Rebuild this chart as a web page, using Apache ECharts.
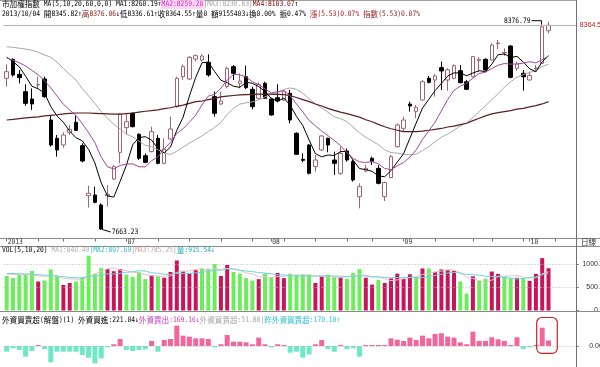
<!DOCTYPE html>
<html><head><meta charset="utf-8">
<script src="https://cdn.jsdelivr.net/npm/echarts/dist/echarts.min.js"></script>
<style>html,body{margin:0;padding:0;background:#fff}#c{width:600px;height:367px}</style>
</head><body><div id="c"></div>
<script>
// ---- trading days (2013) ----
const juneDays = [3,4,5,6,7,10,11,13,14,17,18,19,20,21,24,25,26,27,28];
const julyDays = [1,2,3,4,5,8,9,10,11,12,15,16,17,18,19,22,23,24,25,26,29,30,31];
const augDays  = [1,2,5,6,7,8,9,12,13,14,15,16,19,20,22,23,26,27,28,29,30];
const sepDays  = [2,3,4,5,6,9,10,11,12,13,14,16,17,18,23,24,25,26,27,30];
const octDays  = [1,2,3,4];
const monthTickLabels = ['2013','07','08','09','10'];
const padSlots = ['p1','p2','p3','p4'];
const extraWeekTicks = [87];

// ---- candles ----
const opens = [8182.8,8247.9,8196.5,8137.1,8112.0,8159.9,8180.5,8040.0,7977.2,7954.4,
7996.6,8032.0,7952.1,7780.8,7783.1,7748.8,7780.8,7837.9,7929.3,8013.8,
8062.9,7990.9,7917.8,7931.5,7977.2,7891.6,7974.9,8085.7,8188.5,8180.5,
8249.0,8245.6,8237.6,8120.0,8094.8,8154.2,8222.8,8165.7,8188.5,8145.1,
8114.3,8165.7,8112.0,8116.5,8108.5,8131.4,7994.4,7905.3,7954.4,7880.2,
7937.3,7977.2,7903.0,7857.3,7933.8,7897.3,7777.4,7865.3,7908.7,7874.4,
7777.4,7842.5,7948.7,8011.5,8094.8,8068.6,8108.5,8182.8,8177.1,8219.3,
8177.1,8182.8,8209.0,8171.3,8188.5,8243.3,8247.9,8245.6,8301.5,8269.6,
8293.5,8217.0,8200.0,8177.1,8215.9,8234.1,8345.82];
const closes = [8205.6,8194.2,8185.1,8097.1,8095.0,8161.1,8120.0,7954.4,7937.3,7988.6,
8008.1,8004.5,7899.6,7788.8,7758.0,7666.6,7785.4,7880.2,8059.4,8034.3,
8017.2,7908.7,7895.0,8000.1,7891.6,7940.7,8009.2,8182.8,8222.8,8254.7,
8260.4,8259.3,8194.2,8062.9,8105.1,8217.0,8199.9,8173.6,8150.8,8085.7,
8162.2,8114.3,8057.2,8105.1,8137.1,8040.0,7922.4,7901.8,7857.3,7903.0,
7985.2,7954.4,7891.6,7925.8,7903.0,7834.5,7811.6,7874.4,7897.3,7823.1,
7826.0,7914.4,8022.9,8040.0,8088.0,8083.4,8171.3,8169.0,8190.8,8208.0,
8212.0,8226.2,8167.9,8145.1,8257.0,8247.9,8211.3,8296.9,8303.8,8271.8,
8186.2,8231.9,8188.0,8193.0,8218.1,8359.02,8364.55];
const lows = [8154.2,8188.5,8165.7,8089.1,8074.3,8146.2,8116.5,7948.7,7914.4,7945.2,
7988.6,8002.0,7895.0,7739.7,7754.5,7663.23,7743.1,7834.5,7891.6,7988.6,
8014.9,7903.0,7891.6,7929.3,7888.1,7888.1,7971.5,8082.3,8177.1,8177.1,
8239.9,8239.9,8188.5,8051.5,8091.4,8148.5,8177.1,8148.5,8146.2,8076.6,
8112.0,8112.0,8054.9,8100.6,8105.1,8028.6,7920.1,7895.0,7853.9,7863.0,
7933.8,7929.3,7851.6,7851.6,7897.3,7828.8,7737.4,7860.7,7885.9,7819.6,
7762.5,7840.2,7945.2,8000.0,8068.6,8045.7,8106.2,8165.6,8119.9,8142.8,
8140.5,8179.3,8165.6,8142.8,8186.2,8205.6,8209.0,8243.3,8282.1,8259.3,
8182.8,8209.0,8140.5,8174.8,8205.6,8231.9,8336.61];
const highs = [8230.7,8251.3,8211.3,8162.2,8148.5,8188.5,8188.5,8057.2,7988.6,7997.8,
8022.9,8054.9,7960.1,7815.1,7811.6,7754.5,7817.3,7885.9,8062.9,8059.4,
8066.3,7994.4,7925.8,8017.2,7988.6,7977.2,8051.5,8188.5,8230.7,8259.3,
8265.0,8265.0,8265.0,8137.1,8137.1,8222.8,8228.5,8199.9,8226.2,8154.2,
8169.1,8171.4,8116.5,8162.2,8142.8,8142.8,7997.8,7925.8,7956.7,7920.1,
7988.6,7979.5,7931.5,7948.7,7942.9,7903.0,7823.1,7885.9,7914.4,7885.9,
7828.8,7920.1,8028.6,8051.4,8102.8,8091.4,8177.1,8190.8,8197.6,8239.9,
8217.0,8230.7,8228.4,8177.1,8259.3,8254.7,8251.3,8302.7,8314.1,8285.5,
8296.9,8239.9,8211.3,8205.6,8228.4,8365.5,8376.79];

// ---- price moving averages ----
const ma5 = [8255,8240,8222,8190,8155.8,8146.8,8132.0,8085.8,8053.8,8032.2,
8001.6,7979.4,7968.6,7939.0,7892.8,7824.6,7779.8,7775.8,7829.8,7885.0,
7955.0,7979.8,7982.8,7971.0,7942.6,7927.4,7947.4,8005.0,8049.6,8122.2,
8186.0,8236.0,8238.2,8206.2,8176.2,8167.6,8155.8,8151.8,8169.4,8165.6,
8154.6,8137.4,8114.0,8104.8,8115.0,8090.6,8052.2,8021.2,7971.6,7924.8,
7913.8,7920.2,7918.2,7932.0,7932.0,7902.0,7873.6,7870.0,7864.2,7848.2,
7845.8,7866.2,7896.0,7924.6,7977.6,8029.6,8081.0,8110.6,8140.8,8165.4,
8190.6,8201.6,8201.0,8191.8,8201.0,8208.8,8205.8,8231.6,8263.4,8266.4,
8254.0,8258.2,8238.4,8215.8,8205.0,8239.6,8260.19];
const ma10 = [8252,8245,8236,8225,8210,8195,8175,8150,8122,8094.0,
8074.2,8055.7,8027.2,7996.4,7962.5,7913.1,7879.6,7872.2,7884.4,7888.9,
7889.8,7879.8,7879.3,7900.4,7913.8,7941.2,7963.6,7993.9,8010.3,8032.4,
8056.7,8091.7,8121.6,8127.9,8149.2,8176.8,8195.9,8195.0,8187.8,8170.9,
8161.1,8146.6,8132.9,8137.1,8140.3,8122.6,8094.8,8067.6,8038.2,8019.9,
8002.2,7986.2,7969.7,7951.8,7928.4,7907.9,7896.9,7894.1,7898.1,7890.1,
7873.9,7869.9,7883.0,7894.4,7912.9,7937.7,7973.6,8003.3,8032.7,8071.5,
8110.1,8141.3,8155.8,8166.3,8183.2,8199.7,8203.7,8216.3,8227.6,8233.7,
8231.4,8232.0,8235.0,8239.6,8235.7,8246.8,8259.20];
const ma20 = [8291,8289,8286,8283,8279,8272,8263,8255,8238,8217,
8196,8177,8148,8123,8097,8069,8046,8025,8009,7991.5,
7982.0,7967.8,7953.3,7948.4,7938.2,7927.2,7921.6,7933.1,7947.4,7960.7,
7973.3,7985.8,8000.5,8014.2,8031.5,8059.0,8079.8,8094.5,8099.0,8101.7,
8108.9,8119.2,8127.3,8132.5,8144.8,8149.7,8145.4,8131.3,8113.0,8095.4,
8081.7,8066.4,8051.3,8044.5,8034.4,8015.3,7995.9,7980.9,7968.2,7955.0,
7938.1,7928.1,7926.4,7923.1,7920.7,7922.8,7935.3,7948.7,7965.4,7980.8,
7992.0,8005.6,8019.4,8030.4,8048.1,8068.7,8088.7,8109.8,8130.2,8152.6,
8170.8,8186.7,8195.4,8203.0,8209.5,8223.3,8230.83];
const ma60 = [8040,8042,8045,8047,8049,8051,8054,8056,8058,8061,
8063,8064,8064,8064,8063,8062,8061,8060,8060,8062,
8064,8067,8070,8072,8075,8079,8082,8087,8091,8097,
8103,8105,8110,8114,8119,8122,8124,8126,8127,8128,
8129,8129,8129,8128,8127,8123,8117,8110,8103,8095,
8088,8080,8073,8067,8062,8056,8050,8041,8034,8025,
8017,8010,8005,8000,8000,8000,8002,8005,8008,8011,
8016,8019,8024,8029,8038,8046,8054,8061,8065,8069,
8072,8077,8080,8085,8089,8095,8103.07];

// ---- volume ----
const volumes = [746,701,776,776,858,627,649,888,739,552,
597,627,724,1186,798,918,895,850,895,776,
724,828,679,761,739,709,835,1082,858,798,
873,910,903,1007,746,985,835,798,701,649,
679,798,724,813,701,798,776,783,776,597,
746,776,724,724,686,813,895,709,560,664,
597,694,798,686,783,724,910,910,835,888,
873,858,627,366,739,649,686,843,791,739,
701,709,701,642,791,1134,915.54];
const volUpDown = 'GGGGGRGGGR'+'RGGGGGRRRG'+'GGGRGRRRRR'+'RGGGRRGGGG'+'RGGRRGGGGR'+'RGGRGGGRRG'+'RRRRRGRGRR'+'RRGGRGGRRG'+'GRGRRRR';
const volMa5 = [790,780,775,770,771,748,737,760,752,691,
685,681,648,737,786,851,904,929,871,867,
828,815,780,754,746,743,745,825,845,856,
889,904,868,898,888,910,895,874,813,794,
732,725,710,733,743,767,762,774,767,746,
736,736,724,713,731,745,768,765,733,728,
685,645,663,688,712,737,780,803,832,853,
883,873,816,722,693,648,613,657,742,742,
752,757,728,698,709,795,840.49];
const volMa10 = [800,800,795,790,785,775,765,755,745,731,
716,709,704,745,739,768,792,789,804,827,
839,859,855,812,807,786,780,803,799,801,
816,824,847,871,872,900,900,871,856,841,
821,810,792,773,768,750,744,742,750,745,
751,749,749,740,739,740,752,745,723,730,
715,707,714,710,720,711,713,733,760,783,
810,827,809,777,773,766,743,736,732,717,
700,685,692,720,725,774,807.69];
const volTickValues = [0,500,1000];

// ---- foreign investors net buy/sell ----
const foreignNet = [-53,-22,-37,-99,-47,9,-28,-152,-53,-53,
-53,-53,-84,-109,-161,-115,-12,16,65,-37,
-47,-37,-31,47,-53,56,65,189,96,87,
71,71,65,-12,16,102,40,40,34,16,
78,16,-12,16,9,-62,-53,-109,-78,16,
56,-28,-53,3,-28,-22,-99,9,3,2,
3,71,59,47,78,56,96,71,112,118,
87,78,34,16,133,47,47,81,62,47,
3,81,-28,-12,9,170.10,51.88];

const lastClose = 8364.55;
const periodHigh = 8376.79;
const periodLow = 7663.23;

// ---- build ----
const monthsDays = [[6,juneDays],[7,julyDays],[8,augDays],[9,sepDays],[10,octDays]];
const dates = [];
const monthStart = {};
monthsDays.forEach(([m, days], k) => {
  monthStart[dates.length] = monthTickLabels[k];
  days.forEach(d => dates.push(new Date(2013, m - 1, d)));
});
const tickSet = new Set(extraWeekTicks);
dates.forEach((d, i) => {
  if (i === 0 || monthStart[i] !== undefined) { tickSet.add(i); return; }
  const p = dates[i - 1];
  if (d.getDay() < p.getDay() || (d - p) >= 7 * 864e5) tickSet.add(i);
});
const categories = dates.map(d => (d.getMonth()+1) + '/' + d.getDate()).concat(padSlots);
const candleData = opens.map((o, i) => [o, closes[i], lows[i], highs[i]]);
const volData = volumes.map((v, i) => ({value: v, itemStyle: {color: volUpDown[i] === 'R' ? '#c8155a' : '#6cee5c'}}));
const foreignData = foreignNet.map(v => ({value: v, itemStyle: {color: v >= 0 ? '#f2679b' : '#6ce9c6'}}));

// ---- text helpers: monospace-like layout (half-width 3.8px, CJK full width) ----
const COL = 3.8;
const MONO = '7.5px "DejaVu Sans Mono",monospace';
const MONO_ADV = 7.5 * 0.602;
const CJKF = '7.6px "Noto Sans CJK TC","Noto Sans CJK SC",sans-serif';
function isWide(ch) { return ch.charCodeAt(0) >= 0x2E80; }
function monoLine(x0, y, parts, alignRight) {
  const out = [];
  let total = 0;
  parts.forEach(p => { for (const ch of p[0]) total += isWide(ch) ? 2 : 1; });
  if (alignRight) x0 = x0 - total * COL;
  let col = 0;
  parts.forEach(([s, color, bg]) => {
    const startCol = col;
    let run = '', runWide = null, runCol = col;
    const flush = () => {
      if (!run) return;
      if (runWide) {
        out.push({type: 'text', x: x0 + runCol * COL, y: y, silent: true, z: 50,
          style: {text: run, fill: color, font: CJKF, verticalAlign: 'middle'}});
      } else {
        out.push({type: 'text', x: x0 + runCol * COL, y: y, scaleX: COL / MONO_ADV, silent: true, z: 50,
          style: {text: run, fill: color, font: MONO, verticalAlign: 'middle'}});
      }
      run = '';
    };
    for (const ch of s) {
      const w = isWide(ch);
      if (runWide !== w) { flush(); runWide = w; runCol = col; }
      run += ch; col += w ? 2 : 1;
    }
    flush();
    if (bg) out.unshift({type: 'rect', silent: true, z: 45,
      shape: {x: x0 + startCol * COL - 1, y: y - 4.5, width: (col - startCol) * COL + 2, height: 9}, style: {fill: bg}});
  });
  return out;
}
function hline(y, x1, x2, color) {
  return {type: 'line', silent: true, z: 40, shape: {x1: x1, y1: y, x2: x2, y2: y}, style: {stroke: color || '#8a8a8a', lineWidth: 1}};
}

const L = 3.55, W = 573.3;
const hiddenX = (gi) => ({type: 'category', gridIndex: gi, data: categories, boundaryGap: true,
  axisLine: {show: false}, axisTick: {show: false}, axisLabel: {show: false}, splitLine: {show: false}});

const baseGraphics = [].concat(
  monoLine(2, 4.5, [['市加權指數 MA(5,10,20,60,0,0) MA1:8260.19↑', '#000'], ['MA2:8259.20', '#c23bc2', '#ffd3f1'],
    ['|', '#888'], ['MA3:8230.83', '#a8a8a8'], ['|', '#888'], ['MA4:8103.07', '#800000'], ['↑', '#000']]),
  monoLine(2, 14.5, [['2013/10/04 開8345.82↑', '#000'], ['高8376.06', '#8b1010'],
    ['↓低8336.61↑收8364.55↑量0 額9155403↓換0.00% 振0.47% ', '#000'], ['漲(5.53)0.07% ', '#b01c1c'], ['指數(5.53)0.07%', '#8b1c1c']]),
  monoLine(2, 250.5, [['VOL(5,10,20) ', '#000'], ['MA1:840.49', '#b0b0b0'], ['|', '#40c0c8'], ['MA2:807.69', '#2fc0d0'],
    ['|', '#999'], ['MA3:785.25', '#c8a4ac'], ['|', '#999'], ['量:915.54↓', '#1ea8c0']]),
  monoLine(2, 320, [['外資買賣超(解盤)(1) 外資買進:221.04↓', '#000'], ['外資賣出:169.16↓', '#c23bc2'],
    ['外資買賣超:51.88', '#a8a8a8'], ['|', '#999'], ['昨外資買賣超:170.10↑', '#2fc0d0']]),
  monoLine(581, 242.5, [['日線', '#333']]),
  [hline(0.5, 0, 576, '#a0a0a0'), hline(238.5, 0, 600), hline(246.5, 0, 600), hline(311.5, 0, 600),
   {type: 'line', silent: true, z: 41, shape: {x1: 576.5, y1: 0, x2: 576.5, y2: 367}, style: {stroke: '#707070', lineWidth: 1}}]
);

const axisFont = '"Liberation Sans",sans-serif';
const chart = echarts.init(document.getElementById('c'), null, {renderer: 'canvas'});
const option = {
  animation: false,
  backgroundColor: '#ffffff',
  grid: [
    {left: L, width: W, top: 19, height: 219.5, outerBoundsMode: 'none', containLabel: false},
    {left: L, width: W, top: 255, height: 55.5, outerBoundsMode: 'none', containLabel: false},
    {left: L, width: W, top: 318, height: 49, outerBoundsMode: 'none', containLabel: false}
  ],
  xAxis: [
    {type: 'category', gridIndex: 0, data: categories, boundaryGap: true, position: 'bottom',
      axisLine: {show: false},
      axisTick: {show: true, alignWithLabel: true, length: 3, interval: (i) => tickSet.has(i), lineStyle: {color: '#707070'}},
      axisLabel: {show: false},
      splitLine: {show: false}},
    hiddenX(1), hiddenX(2)
  ],
  yAxis: [
    {type: 'value', gridIndex: 0, position: 'right', min: 7634.03, max: 8386.04, scale: true,
      axisLine: {show: false}, axisTick: {show: false}, axisLabel: {show: false}, splitLine: {show: false}},
    {type: 'value', gridIndex: 1, position: 'right', min: 0, max: 1201,
      axisLine: {show: false},
      axisTick: {show: true, length: 2, customValues: volTickValues, lineStyle: {color: '#808080'}},
      axisLabel: {show: true, customValues: volTickValues, formatter: (v) => v.toFixed(1), align: 'right', margin: 27,
        fontSize: 7, color: '#333', fontFamily: axisFont},
      splitLine: {show: false}},
    {type: 'value', gridIndex: 2, position: 'right', min: -195, max: 260,
      axisLine: {show: false},
      axisTick: {show: true, length: 2, customValues: [0], lineStyle: {color: '#808080'}},
      axisLabel: {show: true, customValues: [0], formatter: (v) => v.toFixed(2), align: 'right', margin: 26,
        fontSize: 7, color: '#333', fontFamily: axisFont},
      splitLine: {show: false}}
  ],
  series: [
    {type: 'candlestick', xAxisIndex: 0, yAxisIndex: 0, data: candleData, barWidth: 4, z: 2,
      itemStyle: {color: '#ffffff', color0: '#000000', borderColor: '#a06474', borderColor0: '#000000', borderWidth: 1},
      markLine: {silent: true, symbol: ['none','none'], animation: false,
        lineStyle: {color: '#b4b4b4', width: 1, type: 'solid'},
        label: {show: true, position: 'end', formatter: String(lastClose), color: '#c0201a', fontSize: 7, distance: 3,
          fontFamily: axisFont},
        data: [{yAxis: lastClose}]}},
    {type: 'line', name: 'MA1', xAxisIndex: 0, yAxisIndex: 0, data: ma5, symbol: 'none', z: 4,
      lineStyle: {color: '#000000', width: 1}},
    {type: 'line', name: 'MA2', xAxisIndex: 0, yAxisIndex: 0, data: ma10, symbol: 'none', z: 4,
      lineStyle: {color: '#a2479f', width: 1}},
    {type: 'line', name: 'MA3', xAxisIndex: 0, yAxisIndex: 0, data: ma20, symbol: 'none', z: 3,
      lineStyle: {color: '#a8a8a8', width: 1}},
    {type: 'line', name: 'MA4', xAxisIndex: 0, yAxisIndex: 0, data: ma60, symbol: 'none', z: 3,
      lineStyle: {color: '#5a1e1e', width: 1.2}},
    {type: 'bar', xAxisIndex: 1, yAxisIndex: 1, data: volData, barWidth: 4,
      markLine: {silent: true, symbol: ['none','none'], label: {show: false},
        lineStyle: {color: '#b8b8b8', width: 1, type: [1, 2]},
        data: [{yAxis: 500}, {yAxis: 1000}]}},
    {type: 'line', xAxisIndex: 1, yAxisIndex: 1, data: volMa5, symbol: 'none', z: 4,
      lineStyle: {color: '#e6c3c8', width: 1}},
    {type: 'line', xAxisIndex: 1, yAxisIndex: 1, data: volMa10, symbol: 'none', z: 4,
      lineStyle: {color: '#6fd3e0', width: 1}},
    {type: 'bar', xAxisIndex: 2, yAxisIndex: 2, data: foreignData, barWidth: 5, barMinHeight: 1,
      markLine: {silent: true, symbol: ['none','none'], label: {show: false},
        lineStyle: {color: '#b8b8b8', width: 1, type: [1, 2]},
        data: [{yAxis: 0}]}}
  ],
  graphic: baseGraphics
};
chart.setOption(option);

// annotations and month labels positioned through the chart's own scales
const hiIdx = highs.indexOf(periodHigh);
const loIdx = lows.indexOf(periodLow);
const pHi = chart.convertToPixel({gridIndex: 0}, [hiIdx, periodHigh]);
const pLo = chart.convertToPixel({gridIndex: 0}, [loIdx, periodLow]);
const pBox1 = chart.convertToPixel({gridIndex: 2}, [foreignNet.length - 2, 0]);
const pBox2 = chart.convertToPixel({gridIndex: 2}, [foreignNet.length - 1, 0]);
let extra = [];
Object.keys(monthStart).forEach(k => {
  const px = chart.convertToPixel({gridIndex: 0}, [Number(k), periodLow]);
  extra = extra.concat(monoLine(px[0] + 1, 242.5, [[monthStart[k], '#333']]));
});
extra = extra.concat(
  monoLine(pHi[0] - 18, pHi[1] - 1, [[String(periodHigh), '#000']], true),
  [{type: 'polyline', silent: true, z: 50, shape: {points: [[pHi[0] - 17, pHi[1] - 1], [pHi[0] - 7, pHi[1] - 1], [pHi[0] - 7, pHi[1] + 3]]},
    style: {stroke: '#000', lineWidth: 1, fill: null}},
   {type: 'polyline', silent: true, z: 50, shape: {points: [[pLo[0] + 1, pLo[1] - 0.5], [pLo[0] + 9.5, pLo[1] + 2]]},
    style: {stroke: '#000', lineWidth: 1, fill: null}}],
  monoLine(pLo[0] + 10.5, pLo[1] + 2, [[String(periodLow), '#000']]),
  [{type: 'rect', silent: true, z: 50,
    shape: {x: pBox1[0] - 5.5, y: pBox1[1] - 28.5, width: (pBox2[0] + 8.8) - (pBox1[0] - 5.5), height: 35.8, r: 5},
    style: {fill: null, stroke: '#cc2222', lineWidth: 1.2}}]
);
chart.setOption({graphic: baseGraphics.concat(extra)});
</script>
</body></html>
